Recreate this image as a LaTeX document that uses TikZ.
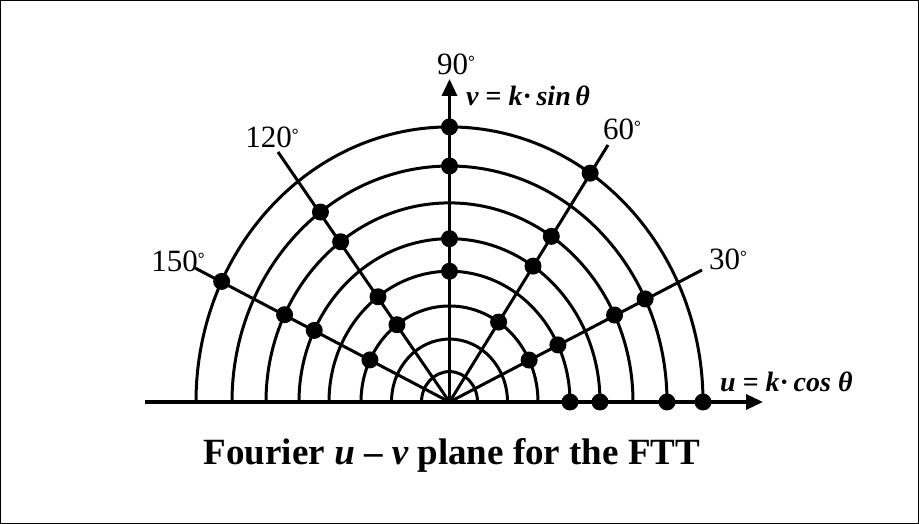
\documentclass[tikz,border=0pt]{standalone}
\usepackage{fontspec}
\setmainfont{Liberation Serif}
\usetikzlibrary{arrows.meta}
\newcommand\dg{\raisebox{7pt}{\fontsize{17}{17}\selectfont\bfseries°}}
\begin{document}
\begin{tikzpicture}[x=1pt,y=1pt,
  arcline/.style={line width=3pt},
  rayline/.style={line width=3pt},
  axisline/.style={line width=3.4pt,-{Triangle[length=17pt,width=15pt]}},
  dotnode/.style={circle,fill=black,inner sep=0pt,minimum size=17pt},
  deg/.style={font=\fontsize{31}{31}\selectfont,inner sep=0pt,anchor=base},
  axlab/.style={font=\fontsize{28}{28}\selectfont,inner sep=0pt,anchor=base west},
  titlelab/.style={font=\fontsize{37}{37}\selectfont\bfseries,inner sep=0pt,anchor=base}]
\useasboundingbox (0,0) rectangle (919,524);
\draw[line width=1pt] (0.5,0.5) rectangle (918.5,523.5);
\coordinate (C) at (449.5,122);
\coordinate (L) at (145,122);
\coordinate (R) at (763,122);
\coordinate (T) at (449.5,445);
\coordinate (E30) at (702,254);
\coordinate (E60) at (608,379);
\coordinate (E120) at (278,372);
\coordinate (E150) at (195,256);
\def\radii{{28,58,88.5,120.5,150.5,183.5,217.5,253.5}}
% arcs
\begin{scope}[shift={(C)},yscale=1.085]
  \foreach \r in {28,58,88.5,120.5,150.5,183.5,217.5,253.5}
    \draw[arcline] (\r,0) arc[start angle=0,end angle=180,radius=\r];
\end{scope}
% rays
\foreach \e in {E30,E60,E120,E150}
  \draw[rayline] (C) -- (\e);
% axes
\draw[axisline] (L) -- (R);
\draw[axisline] (C) -- (T);
% dots
\begin{scope}[shift={(C)},yscale=1.085]
  \foreach \a/\lst in {90/{4,5,7,8},56.3/{3,5,6,8},25.9/{3,4,6,7},126.4/{3,4,6,7},154/{3,5,6,8},0/{4,5,7,8}}
    \foreach \k in \lst {
      \pgfmathsetmacro\rr{\radii[\k-1]}
      \node[dotnode] (d\a-\k) at (\a:\rr) {};
    }
\end{scope}
% labels
\node[deg] (l90) at (456,449) {90\dg};
\node[deg] (l60) at (622,384) {60\dg};
\node[deg] (l120) at (272,376) {120\dg};
\node[deg] (l150) at (178,252) {150\dg};
\node[deg] (l30) at (728,254) {30\dg};
\node[axlab] (vlab) at (466,418) {{\bfseries\itshape v} {\bfseries =} {\bfseries\itshape k}{\bfseries·}\,{\bfseries\itshape sin}\,{\bfseries\itshape θ}};
\node[axlab] (ulab) at (720,132) {{\bfseries\itshape u} {\bfseries =} {\bfseries\itshape k}{\bfseries·}\,{\bfseries\itshape cos} {\bfseries\itshape θ}};
\node[titlelab] (title) at (452,59) {Fourier {\itshape u} – {\itshape v} plane for the FTT};
\end{tikzpicture}
\end{document}
